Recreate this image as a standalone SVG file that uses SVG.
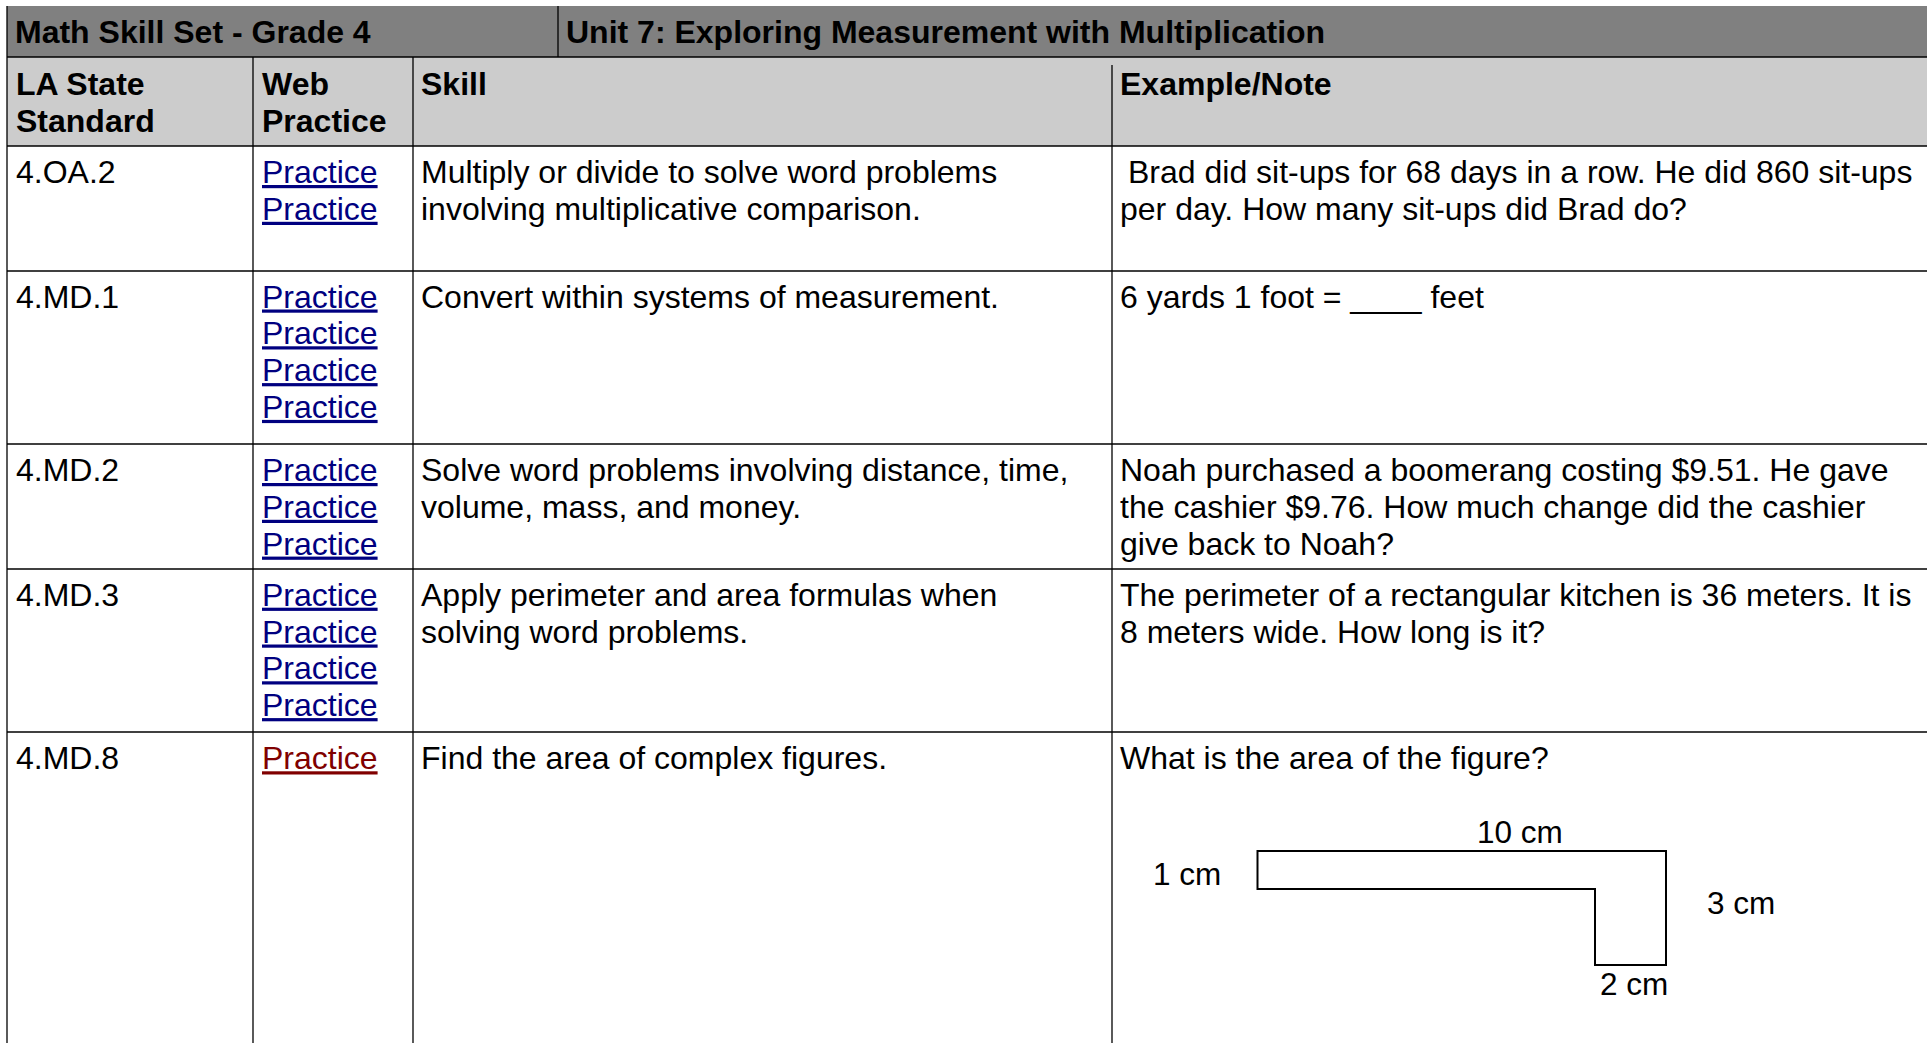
<svg xmlns="http://www.w3.org/2000/svg" width="1927" height="1043" viewBox="0 0 1927 1043">
<style>
.t{font-family:"Liberation Sans",Arial,sans-serif;font-size:32px;fill:#000}
.f{font-size:31.5px}
.b{font-weight:bold}
.lk{fill:#000080;text-decoration:underline}
.lk2{fill:#800000;text-decoration:underline}
.ln{stroke:#000;stroke-width:1.3;fill:none}
.fig{stroke:#000;stroke-width:2;fill:#fff}
</style>
<rect x="0" y="0" width="1927" height="1043" fill="#fff"/>
<g id="title-bar">
<rect x="7" y="6" width="1920" height="51" fill="#808080"/>
<text class="t b" x="15" y="43">Math Skill Set - Grade 4</text>
<text class="t b" x="566" y="43">Unit 7: Exploring Measurement with Multiplication</text>
</g>
<g id="header-row">
<rect x="7" y="57" width="1920" height="89" fill="#cccccc"/>
<text class="t b" x="16" y="95">LA State</text>
<text class="t b" x="16" y="131.5">Standard</text>
<text class="t b" x="262" y="95">Web</text>
<text class="t b" x="262" y="131.5">Practice</text>
<text class="t b" x="421" y="95">Skill</text>
<text class="t b" x="1120" y="95">Example/Note</text>
</g>
<g id="grid-lines">
<line class="ln" x1="7" y1="6" x2="7" y2="1043"/>
<line class="ln" x1="558" y1="6" x2="558" y2="57"/>
<line class="ln" x1="7" y1="57" x2="1927" y2="57"/>
<line class="ln" x1="253" y1="57" x2="253" y2="1043"/>
<line class="ln" x1="413" y1="57" x2="413" y2="1043"/>
<line class="ln" x1="1112" y1="65" x2="1112" y2="1043"/>
<line class="ln" x1="7" y1="146" x2="1927" y2="146"/>
<line class="ln" x1="7" y1="271" x2="1927" y2="271"/>
<line class="ln" x1="7" y1="444" x2="1927" y2="444"/>
<line class="ln" x1="7" y1="569" x2="1927" y2="569"/>
<line class="ln" x1="7" y1="732" x2="1927" y2="732"/>
</g>
<g id="row-4OA2">
<text class="t" x="16" y="183">4.OA.2</text>
<text class="t lk" x="262" y="183">Practice</text>
<text class="t lk" x="262" y="219.8">Practice</text>
<text class="t" x="421" y="183">Multiply or divide to solve word problems</text>
<text class="t" x="421" y="219.8">involving multiplicative comparison.</text>
<text class="t" x="1128" y="183">Brad did sit-ups for 68 days in a row. He did 860 sit-ups</text>
<text class="t" x="1120" y="219.8">per day. How many sit-ups did Brad do?</text>
</g>
<g id="row-4MD1">
<text class="t" x="16" y="307.5">4.MD.1</text>
<text class="t lk" x="262" y="307.5">Practice</text>
<text class="t lk" x="262" y="344.3">Practice</text>
<text class="t lk" x="262" y="381.1">Practice</text>
<text class="t lk" x="262" y="417.9">Practice</text>
<text class="t" x="421" y="307.5">Convert within systems of measurement.</text>
<text class="t" x="1120" y="307.5">6 yards 1 foot = ____ feet</text>
</g>
<g id="row-4MD2">
<text class="t" x="16" y="481">4.MD.2</text>
<text class="t lk" x="262" y="481">Practice</text>
<text class="t lk" x="262" y="517.8">Practice</text>
<text class="t lk" x="262" y="554.6">Practice</text>
<text class="t" x="421" y="481">Solve word problems involving distance, time,</text>
<text class="t" x="421" y="517.8">volume, mass, and money.</text>
<text class="t" x="1120" y="481">Noah purchased a boomerang costing $9.51. He gave</text>
<text class="t" x="1120" y="517.8">the cashier $9.76. How much change did the cashier</text>
<text class="t" x="1120" y="554.6">give back to Noah?</text>
</g>
<g id="row-4MD3">
<text class="t" x="16" y="605.7">4.MD.3</text>
<text class="t lk" x="262" y="605.7">Practice</text>
<text class="t lk" x="262" y="642.5">Practice</text>
<text class="t lk" x="262" y="679.3">Practice</text>
<text class="t lk" x="262" y="716.1">Practice</text>
<text class="t" x="421" y="605.7">Apply perimeter and area formulas when</text>
<text class="t" x="421" y="642.5">solving word problems.</text>
<text class="t" x="1120" y="605.7">The perimeter of a rectangular kitchen is 36 meters. It is</text>
<text class="t" x="1120" y="642.5">8 meters wide. How long is it?</text>
</g>
<g id="row-4MD8">
<text class="t" x="16" y="769.3">4.MD.8</text>
<text class="t lk2" x="262" y="769.3">Practice</text>
<text class="t" x="421" y="769.3">Find the area of complex figures.</text>
<text class="t" x="1120" y="769.3">What is the area of the figure?</text>
</g>
<g id="figure">
<polygon class="fig" points="1257.5,851 1666,851 1666,965 1595,965 1595,889 1257.5,889"/>
<text class="t f" x="1477" y="842.7">10 cm</text>
<text class="t f" x="1153" y="885">1 cm</text>
<text class="t f" x="1707" y="914.3">3 cm</text>
<text class="t f" x="1600" y="995">2 cm</text>
</g>
</svg>
